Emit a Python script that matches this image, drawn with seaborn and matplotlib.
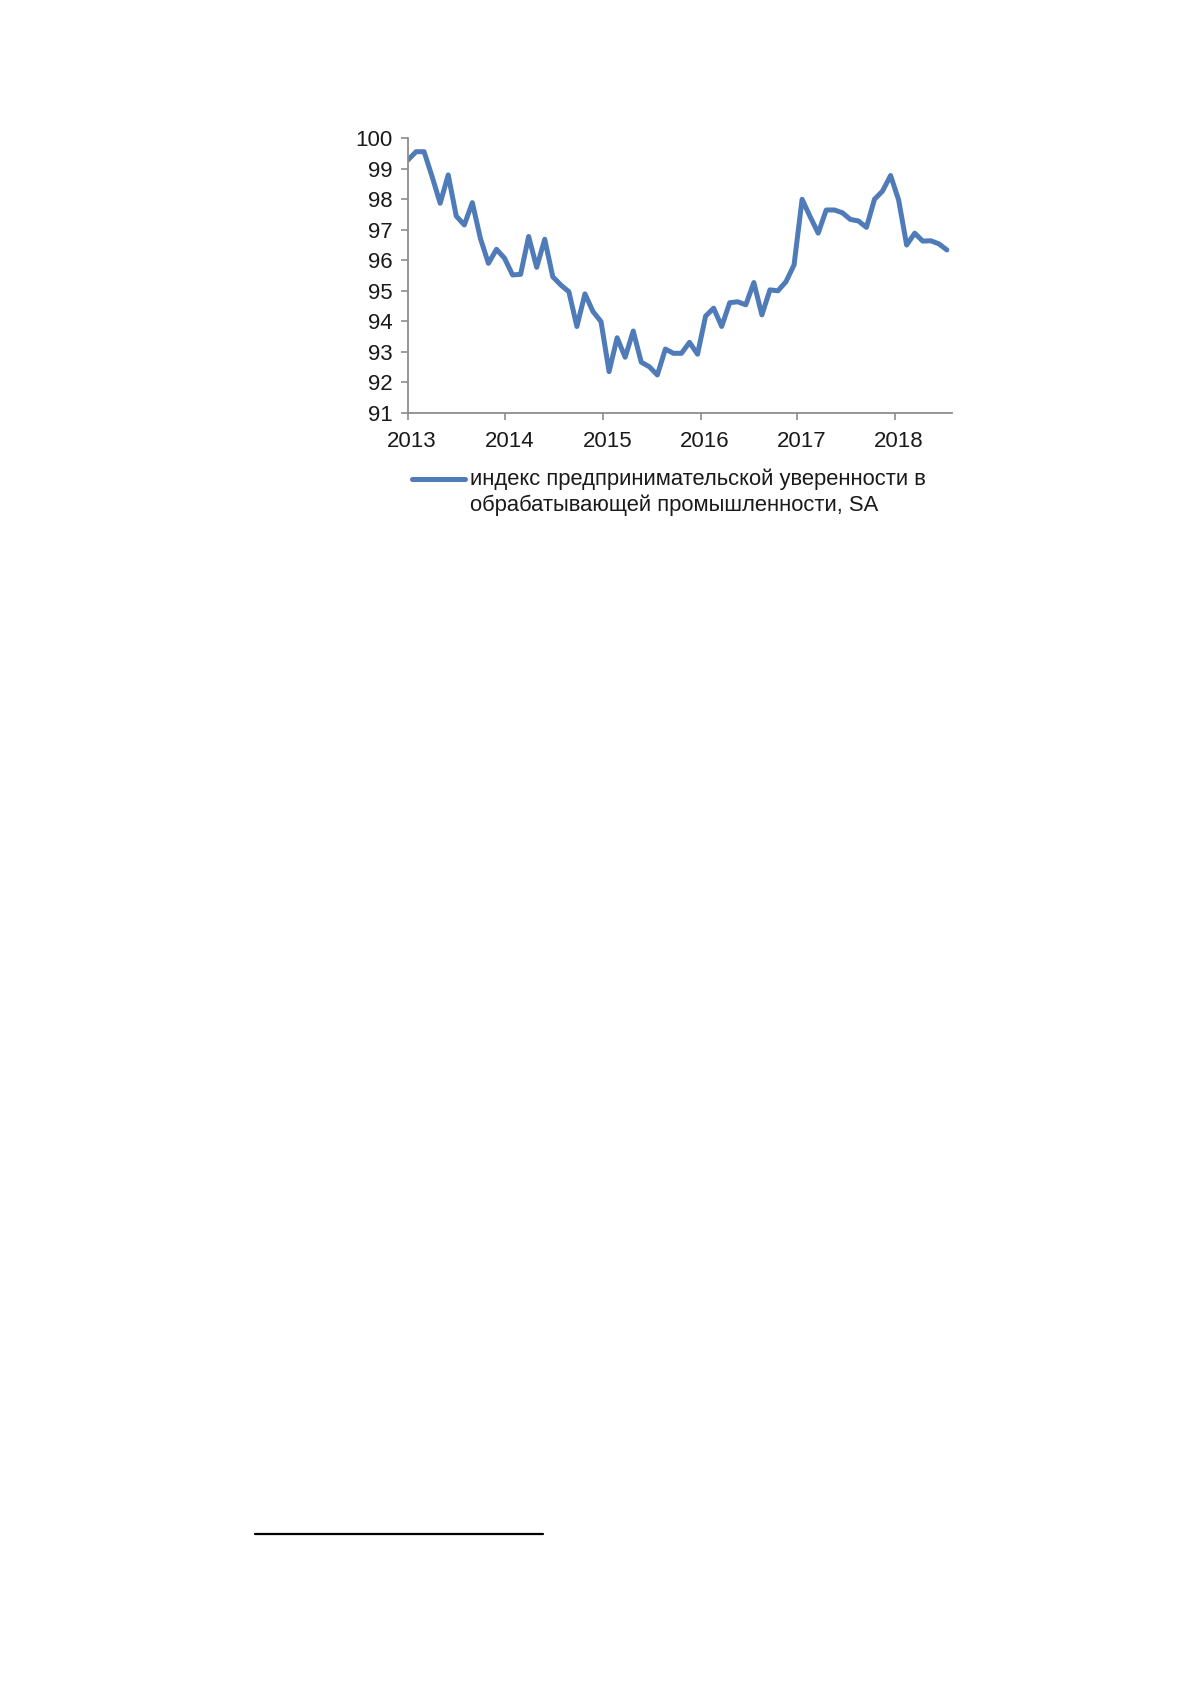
import matplotlib
matplotlib.use("Agg")
import matplotlib.pyplot as plt
import matplotlib.transforms as mtransforms
from matplotlib.lines import Line2D
from matplotlib.legend_handler import HandlerLine2D
import seaborn as sns
import pandas as pd
import numpy as np

# Monthly index values, Jan 2013 .. Aug 2018
months = list(range(68))
values = [
    99.29, 99.56, 99.56, 98.74, 97.87, 98.80, 97.45, 97.16, 97.89, 96.72, 95.90, 96.36,
    96.07, 95.52, 95.54, 96.78, 95.77, 96.69, 95.46, 95.19, 94.97, 93.83, 94.90, 94.32,
    93.99, 92.35, 93.46, 92.82, 93.68, 92.66, 92.51, 92.24, 93.09, 92.95, 92.95, 93.31,
    92.92, 94.17, 94.43, 93.83, 94.61, 94.64, 94.54, 95.27, 94.21, 95.03, 95.00, 95.30,
    95.85, 98.00, 97.43, 96.89, 97.65, 97.65, 97.56, 97.34, 97.29, 97.08, 98.00, 98.27,
    98.78, 97.98, 96.50, 96.89, 96.63, 96.64, 96.54, 96.34,
]
year_ticks = [0, 12.1, 24.3, 36.4, 48.4, 60.5]
year_labels = ["2013", "2014", "2015", "2016", "2017", "2018"]
y_ticks = [91, 92, 93, 94, 95, 96, 97, 98, 99, 100]
series_name = "индекс предпринимательской уверенности в\nобрабатывающей промышленности, SA"

df = pd.DataFrame({"month": months, "value": values, "series": series_name})

sns.set_theme(style="white")
plt.rcParams["font.family"] = ["Liberation Sans", "DejaVu Sans"]


class FirstLineHandler(HandlerLine2D):
    """Place the legend line next to the first line of a two-line label."""
    def __init__(self, shift, **kw):
        super().__init__(**kw)
        self.shift = shift

    def create_artists(self, legend, orig_handle, xdescent, ydescent, width, height,
                       fontsize, trans):
        arts = super().create_artists(legend, orig_handle, xdescent, ydescent, width,
                                      height, fontsize, trans)
        for a in arts:
            if isinstance(a, Line2D):
                a.set_ydata(np.asarray(a.get_ydata()) + self.shift)
        return arts


fig = plt.figure(figsize=(11.91, 16.84), dpi=100)
ax = fig.add_axes([408 / 1191, 1 - 412.8 / 1684, (951.7 - 408) / 1191, (412.8 - 138.3) / 1684])

sns.lineplot(data=df, x="month", y="value", hue="series", palette=["#4F7BB8"],
             linewidth=3.6, ax=ax, legend=True)

ax.set_xlim(0, 67.6)
ax.set_ylim(91, 100)
ax.set_xticks(year_ticks)
ax.set_xticklabels(year_labels)
ax.set_yticks(y_ticks)
ax.set_xlabel("")
ax.set_ylabel("")

for s in ["top", "right"]:
    ax.spines[s].set_visible(False)
for s in ["left", "bottom"]:
    ax.spines[s].set_color("#8C8C8C")
    ax.spines[s].set_linewidth(1.3)

ax.tick_params(axis="both", which="major", direction="out", length=5, width=1.2,
               color="#8C8C8C", labelsize=16, labelcolor="#1a1a1a")
ax.tick_params(axis="y", pad=6)
ax.tick_params(axis="x", pad=8)
ax.tick_params(left=True, bottom=True)

offset = mtransforms.ScaledTranslation(4 / 100, 0, fig.dpi_scale_trans)
for lbl in ax.get_xticklabels():
    lbl.set_transform(lbl.get_transform() + offset)

handles, labels = ax.get_legend_handles_labels()
leg = ax.legend(handles, labels, loc="upper left",
                bbox_to_anchor=(412 / 1191, 1 - 468 / 1684),
                bbox_transform=fig.transFigure, frameon=False, borderpad=0,
                handlelength=2.4, handletextpad=0.25, fontsize=15.8, borderaxespad=0,
                handler_map={Line2D: FirstLineHandler(shift=10.0)})
for t in leg.get_texts():
    t.set_linespacing(1.32)
    t.set_color("#1a1a1a")
for h in leg.get_lines():
    h.set_linewidth(3.6)

# footnote separator line on the page
fig.add_artist(Line2D([255 / 1191, 543 / 1191], [1 - 1534.3 / 1684, 1 - 1534.3 / 1684],
                      color="black", linewidth=1.6, transform=fig.transFigure))

fig.savefig("out.png", dpi=100, facecolor="white")
